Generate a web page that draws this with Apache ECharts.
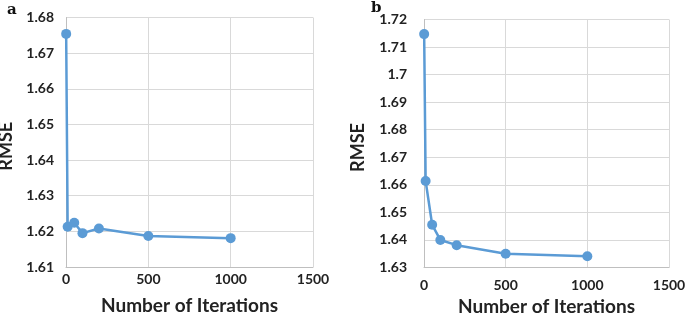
<!DOCTYPE html>
<html>
<head>
<meta charset="utf-8">
<script src="https://cdn.jsdelivr.net/npm/echarts@6/dist/echarts.min.js"></script>
<style>
  body { margin: 0; background: #fff; }
  #chart { width: 685px; height: 313px; }
</style>
</head>
<body>
<div id="chart"></div>
<script>
// data
const iterations = [1, 10, 50, 100, 200, 500, 1000];
const rmseA = [1.6754, 1.6213, 1.6224, 1.6195, 1.6208, 1.6187, 1.6181];
const rmseB = [1.7147, 1.6614, 1.6455, 1.6400, 1.6381, 1.6350, 1.6341];
const panelLabels = ['a', 'b'];

const chart = echarts.init(document.getElementById('chart'));

const lineColor = '#5b9bd5';
const gridColor = '#d9d9d9';
const labelFont = { color: '#222', fontSize: 14, fontWeight: 'bold', fontFamily: 'Lato' };
const nameFont = { color: '#222', fontSize: 19, fontWeight: 'bold', fontFamily: 'Lato' };

function xAxisFor(gridIndex, labelMargin, nameGap) {
  return {
    type: 'value',
    gridIndex: gridIndex,
    min: 0,
    max: 1500,
    interval: 500,
    name: 'Number of Iterations',
    nameLocation: 'middle',
    nameGap: nameGap,
    nameTextStyle: nameFont,
    axisLine: { show: true, lineStyle: { color: '#bfbfbf', width: 1 } },
    axisTick: { show: false },
    axisLabel: Object.assign({ margin: labelMargin, formatter: v => String(v) }, labelFont),
    splitLine: { show: true, lineStyle: { color: gridColor, width: 1 } }
  };
}

function yAxisFor(gridIndex, min, max, labelMargin, nameGap) {
  return {
    type: 'value',
    gridIndex: gridIndex,
    min: min,
    max: max,
    interval: 0.01,
    name: 'RMSE',
    nameLocation: 'middle',
    nameGap: nameGap,
    nameRotate: 90,
    nameTextStyle: Object.assign({ padding: [0, 0, 0, -8] }, nameFont, { fontSize: 18 }),
    axisLine: { show: true, lineStyle: { color: '#bfbfbf', width: 1 } },
    axisTick: { show: false },
    axisLabel: Object.assign({
      margin: labelMargin,
      formatter: v => String(Math.round(v * 100) / 100)
    }, labelFont),
    splitLine: { show: true, lineStyle: { color: gridColor, width: 1 } }
  };
}

function seriesFor(index, values) {
  return {
    type: 'line',
    xAxisIndex: index,
    yAxisIndex: index,
    data: iterations.map((x, i) => [x, values[i]]),
    symbol: 'circle',
    symbolSize: 10,
    itemStyle: { color: lineColor },
    lineStyle: { color: lineColor, width: 2.5 },
    z: 3
  };
}

const option = {
  animation: false,
  backgroundColor: '#fff',
  title: [
    { text: panelLabels[0], left: 2, top: -2,
      textStyle: { fontFamily: 'DejaVu Serif', fontWeight: 'bold', fontSize: 15, color: '#111' } },
    { text: panelLabels[1], left: 366, top: -4,
      textStyle: { fontFamily: 'DejaVu Serif', fontWeight: 'bold', fontSize: 15, color: '#111' } }
  ],
  grid: [
    { left: 66, top: 17.5, width: 247, height: 249.5, outerBoundsMode: 'none' },
    { left: 424, top: 19.5, width: 245, height: 248, outerBoundsMode: 'none' }
  ],
  xAxis: [xAxisFor(0, 5, 29), xAxisFor(1, 11, 29)],
  yAxis: [yAxisFor(0, 1.61, 1.68, 12, 51), yAxisFor(1, 1.63, 1.72, 17, 57)],
  series: [seriesFor(0, rmseA), seriesFor(1, rmseB)]
};

chart.setOption(option);
</script>
</body>
</html>
